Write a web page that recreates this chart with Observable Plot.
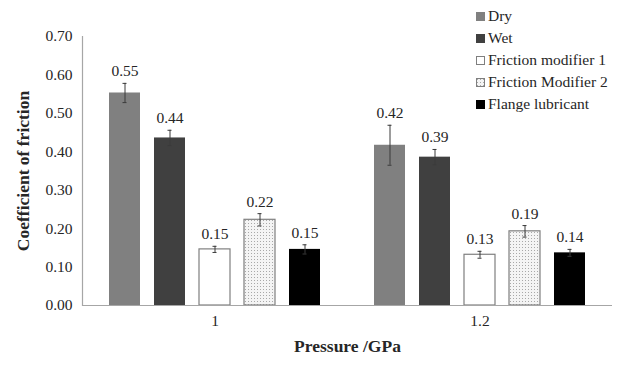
<!DOCTYPE html>
<html>
<head>
<meta charset="utf-8">
<script src="https://cdn.jsdelivr.net/npm/d3@7"></script>
<script src="https://cdn.jsdelivr.net/npm/@observablehq/plot@0.6"></script>
<style>
  html, body { margin: 0; padding: 0; background: #fff; }
  #wrap { position: relative; width: 638px; height: 368px; font-family: "Liberation Serif", "Times New Roman", serif; color: #262626; }
  #legend { position: absolute; left: 476px; top: 5px; font-size: 15.5px; }
  #legend .row { display: flex; align-items: center; height: 22px; }
  #legend svg { margin-right: 3px; }
  #chart svg, #chart svg text { font-family: "Liberation Serif", "Times New Roman", serif !important; }
</style>
</head>
<body>
<div id="wrap"><div id="chart"></div><div id="legend"></div></div>
<script>
const pressures = ["1", "1.2"];
const series = ["Dry", "Wet", "Friction modifier 1", "Friction Modifier 2", "Flange lubricant"];
const values1 = [0.553, 0.436, 0.146, 0.223, 0.146];
const errors1 = [0.025, 0.020, 0.008, 0.016, 0.012];
const values12 = [0.417, 0.386, 0.132, 0.193, 0.137];
const errors12 = [0.052, 0.020, 0.009, 0.015, 0.009];
const yTicks = [0, 0.1, 0.2, 0.3, 0.4, 0.5, 0.6, 0.7];
const fills = ["#808080", "#404040", "#ffffff", "url(#dots)", "#000000"];
const outlined = ["Friction modifier 1", "Friction Modifier 2"];

const data = [];
[[pressures[0], values1, errors1], [pressures[1], values12, errors12]].forEach(([p, vals, errs]) => {
  series.forEach((s, i) => data.push({pressure: p, series: s, value: vals[i], lo: vals[i] - errs[i], hi: vals[i] + errs[i]}));
});

const fmt = d3.format(".2f");
const textColor = "#262626";
const serifStack = "'Liberation Serif', 'Times New Roman', serif";

const svg = Plot.plot({
  width: 638, height: 368,
  marginLeft: 81, marginRight: 26, marginTop: 36, marginBottom: 63,
  style: {fontFamily: serifStack, fontSize: "15.5px", color: textColor, background: "#fff"},
  fx: {domain: pressures, padding: 0, label: null},
  x: {domain: series, paddingInner: 0.3, paddingOuter: 0.536, axis: null},
  y: {domain: [0, 0.7]},
  color: {domain: series, range: fills},
  marks: [
    Plot.barY(data, {fx: "pressure", x: "series", y: "value", fill: "series"}),
    Plot.barY(data.filter(d => outlined.includes(d.series)), {fx: "pressure", x: "series", y: "value", fill: "none", stroke: "#7f7f7f", strokeWidth: 1.2}),
    Plot.ruleX(data, {fx: "pressure", x: "series", y1: "lo", y2: "hi", stroke: "#3a3a3a", strokeWidth: 1}),
    Plot.tickY(data, {fx: "pressure", x: "series", y: "lo", insetLeft: 13.5, insetRight: 13.5, stroke: "#3a3a3a", strokeWidth: 1}),
    Plot.tickY(data, {fx: "pressure", x: "series", y: "hi", insetLeft: 13.5, insetRight: 13.5, stroke: "#3a3a3a", strokeWidth: 1}),
    Plot.text(data, {fx: "pressure", x: "series", y: "hi", text: d => fmt(d.value), dy: -12, fontSize: 15.5, fill: textColor}),
    Plot.ruleY([0], {stroke: "#a6a6a6", strokeWidth: 1.2}),
    Plot.frame({anchor: "left", stroke: "#a6a6a6", strokeWidth: 1.2, facetAnchor: "left"}),
    Plot.axisY({ticks: yTicks, tickFormat: ".2f", tickSize: 0, tickPadding: 10, label: null, fontSize: 15.5}),
    Plot.axisFx({anchor: "bottom", tickSize: 0, tickPadding: 9, label: null, fontSize: 15.5}),
    Plot.text(["Coefficient of friction"], {frameAnchor: "left", rotate: -90, dx: -59, textAnchor: "middle", fontWeight: "bold", fontSize: 17.5, fill: textColor, facet: "super"}),
    Plot.text(["Pressure /GPa"], {frameAnchor: "bottom", dy: 46, textAnchor: "middle", fontWeight: "bold", fontSize: 17.5, fill: textColor, facet: "super"})
  ]
});

// dotted pattern definition for Friction Modifier 2
const ns = "http://www.w3.org/2000/svg";
function addPattern(root, id) {
  const defs = document.createElementNS(ns, "defs");
  const pat = document.createElementNS(ns, "pattern");
  pat.setAttribute("id", id);
  pat.setAttribute("width", "3");
  pat.setAttribute("height", "3");
  pat.setAttribute("patternUnits", "userSpaceOnUse");
  const bg = document.createElementNS(ns, "rect");
  bg.setAttribute("width", "3"); bg.setAttribute("height", "3"); bg.setAttribute("fill", "#f4f4f4");
  const dot = document.createElementNS(ns, "rect");
  dot.setAttribute("x", "1"); dot.setAttribute("y", "1");
  dot.setAttribute("width", "1"); dot.setAttribute("height", "1"); dot.setAttribute("fill", "#a8a8a8");
  pat.appendChild(bg); pat.appendChild(dot); defs.appendChild(pat);
  root.insertBefore(defs, root.firstChild);
}
addPattern(svg, "dots");
document.getElementById("chart").appendChild(svg);

// legend
const legend = d3.select("#legend");
series.forEach((s, i) => {
  const row = legend.append("div").attr("class", "row");
  const sw = row.append("svg").attr("width", 9).attr("height", 9);
  if (i === 3) {
    const d = sw.append("defs").append("pattern").attr("id", "ldots").attr("width", 3).attr("height", 3).attr("patternUnits", "userSpaceOnUse");
    d.append("rect").attr("width", 3).attr("height", 3).attr("fill", "#f4f4f4");
    d.append("rect").attr("x", 1).attr("y", 1).attr("width", 1).attr("height", 1).attr("fill", "#a8a8a8");
  }
  const isOut = outlined.includes(s);
  sw.append("rect").attr("x", isOut ? 0.5 : 0).attr("y", isOut ? 0.5 : 0)
    .attr("width", isOut ? 8 : 9).attr("height", isOut ? 8 : 9)
    .attr("fill", i === 3 ? "url(#ldots)" : fills[i])
    .attr("stroke", isOut ? "#7f7f7f" : "none");
  row.append("span").text(s);
});
</script>
</body>
</html>
